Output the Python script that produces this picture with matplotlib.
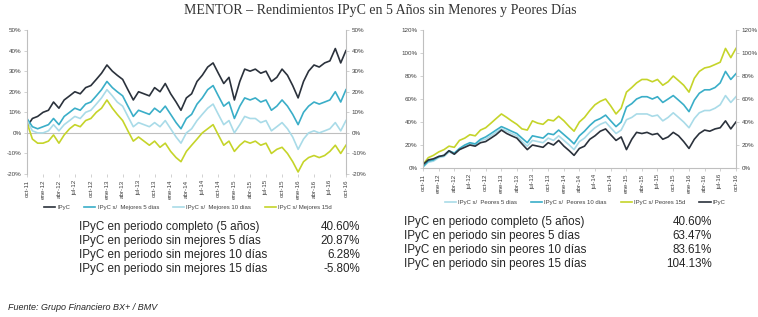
import matplotlib
matplotlib.use("Agg")
import matplotlib.pyplot as plt
import pandas as pd

# monthly readings, oct-11 .. oct-16
fechas = pd.date_range("2011-10-01", "2016-10-01", freq="MS")

ipyc = [3, 7, 8, 10, 11, 15, 12, 16, 18, 20, 19, 22, 23, 26, 29, 33, 30, 28, 26, 21,
        16, 20, 19, 18, 22, 20, 24, 19, 15, 11, 17, 19, 25, 28, 32, 34, 29, 24, 27, 16,
        25, 31, 30, 31, 29, 30, 25, 27, 31, 28, 23, 17, 25, 30, 33, 32, 34, 35, 41, 34, 40]
mej5 = [7, 3, 2, 3, 4, 7, 4, 8, 10, 12, 11, 14, 15, 18, 21, 25, 22, 20, 18, 13,
        8, 11, 10, 9, 12, 10, 13, 9, 5, 2, 7, 9, 14, 17, 21, 23, 18, 13, 15, 7,
        13, 17, 16, 17, 15, 16, 11, 13, 16, 13, 9, 4, 10, 13, 15, 14, 15, 16, 20, 15, 21]
mej10 = [6, 1, 0, 0, 1, 4, 1, 4, 6, 8, 7, 10, 11, 14, 17, 21, 18, 15, 13, 8,
         3, 5, 4, 3, 5, 3, 6, 2, -2, -5, 0, 2, 6, 9, 12, 14, 9, 4, 6, 0,
         4, 8, 7, 7, 5, 6, 1, 3, 5, 2, -2, -8, -3, 0, 1, 0, 1, 2, 5, 1, 6]
mej15 = [5, -3, -5, -5, -4, -1, -5, -1, 2, 4, 3, 6, 7, 10, 12, 16, 12, 9, 6, 1,
         -4, -2, -4, -6, -4, -7, -5, -9, -12, -14, -9, -6, -3, 0, 2, 4, -1, -6, -4, -9,
         -6, -4, -5, -4, -6, -5, -10, -8, -7, -10, -14, -19, -14, -12, -11, -12, -11, -9, -6, -10, -6]

peo5 = [1, 5, 6, 9, 10, 14, 12, 16, 19, 21, 20, 24, 25, 28, 31, 34, 32, 30, 28, 23,
        19, 24, 23, 22, 26, 24, 28, 24, 20, 16, 23, 26, 31, 35, 38, 40, 35, 30, 33, 42,
        44, 47, 47, 47, 45, 46, 41, 44, 48, 44, 40, 35, 43, 48, 50, 50, 52, 55, 63, 57, 62]
peo10 = [1, 6, 7, 10, 11, 15, 13, 17, 20, 22, 21, 25, 27, 30, 33, 36, 34, 32, 30, 26,
         22, 28, 27, 26, 30, 29, 33, 29, 25, 21, 28, 32, 37, 41, 43, 46, 41, 36, 40, 53,
         56, 60, 62, 62, 60, 62, 57, 60, 63, 59, 55, 49, 59, 65, 68, 68, 70, 74, 84, 77, 82]
peo15 = [3, 9, 11, 14, 16, 19, 18, 24, 26, 29, 28, 33, 35, 39, 43, 47, 44, 41, 38, 34,
         33, 41, 39, 38, 42, 41, 45, 41, 36, 32, 40, 44, 50, 55, 58, 60, 54, 47, 52, 66,
         70, 74, 77, 77, 75, 77, 72, 75, 80, 76, 72, 66, 78, 84, 87, 88, 90, 92, 104, 96, 104]

meses = ["oct-11", "ene-12", "abr-12", "jul-12", "oct-12", "ene-13", "abr-13", "jul-13",
         "oct-13", "ene-14", "abr-14", "jul-14", "oct-14", "ene-15", "abr-15", "jul-15",
         "oct-15", "ene-16", "abr-16", "jul-16", "oct-16"]

tabla_izq = [("IPyC en periodo completo (5 años)", "40.60%"),
             ("IPyC en periodo sin mejores 5 días", "20.87%"),
             ("IPyC en periodo sin mejores 10 días", "6.28%"),
             ("IPyC en periodo sin mejores 15 días", "-5.80%")]
tabla_der = [("IPyC en periodo completo (5 años)", "40.60%"),
             ("IPyC en periodo sin peores 5 días", "63.47%"),
             ("IPyC en periodo sin peores 10 días", "83.61%"),
             ("IPyC en periodo sin peores 15 días", "104.13%")]

NEGRO = "#2b323c"
TEAL = "#3aaec8"
CLARO = "#a9dbe8"
AMAR = "#c5d42a"
GRIS = "#bfbfbf"
TXT = "#404040"

plt.rcParams["font.family"] = ["Liberation Sans", "DejaVu Sans"]

fig = plt.figure(figsize=(7.58, 3.17), dpi=100)
ticks = pd.date_range("2011-10-01", "2016-10-01", freq="3MS")


def arma_ejes(ax, lo, hi, paso):
    ax.set_xlim(fechas[0], fechas[-1])
    ax.set_ylim(lo, hi)
    yt = list(range(lo, hi + 1, paso))
    ax.set_yticks(yt)
    ax.set_yticklabels([f"{v}%" for v in yt])
    ax.set_xticks(ticks)
    ax.set_xticklabels(meses, rotation=90)
    ax.tick_params(axis="both", labelsize=4.5, colors=TXT, length=2, width=0.5,
                   color=GRIS, labelright=True, right=True, pad=2)
    ax.spines["top"].set_visible(False)
    for s in ["left", "right", "bottom"]:
        ax.spines[s].set_color(GRIS)
        ax.spines[s].set_linewidth(0.8)


leg_kw = dict(loc="center", ncol=4, frameon=False, fontsize=4.3, handlelength=1.9,
              columnspacing=2.3, handletextpad=0.35, labelcolor=TXT)

# izquierda: sin mejores dias
ax1 = fig.add_axes([0.0356, 0.451, 0.4208, 0.4543])
l1, = ax1.plot(fechas, ipyc, color=NEGRO, lw=1.2, label="IPyC")
l2, = ax1.plot(fechas, mej5, color=TEAL, lw=1.2, label="IPyC s/  Mejores 5 dias")
l3, = ax1.plot(fechas, mej10, color=CLARO, lw=1.2, label="IPyC s/  Mejores 10 dias")
l4, = ax1.plot(fechas, mej15, color=AMAR, lw=1.2, label="IPyC s/ Mejores 15d")
arma_ejes(ax1, -20, 50, 10)
ax1.spines["bottom"].set_visible(False)
ax1.axhline(0, color=GRIS, lw=0.8, zorder=0)
fig.legend(handles=[l1, l2, l3, l4], bbox_to_anchor=(0.248, 0.347), **leg_kw)

# derecha: sin peores dias
ax2 = fig.add_axes([0.558, 0.47, 0.4129, 0.4353])
r1, = ax2.plot(fechas, peo5, color=CLARO, lw=1.2, label="IPyC s/  Peores 5 dias")
r2, = ax2.plot(fechas, peo10, color=TEAL, lw=1.2, label="IPyC s/  Peores 10 dias")
r3, = ax2.plot(fechas, peo15, color=AMAR, lw=1.2, label="IPyC s/ Peores 15d")
r4, = ax2.plot(fechas, ipyc, color=NEGRO, lw=1.2, label="IPyC")
arma_ejes(ax2, 0, 120, 20)
fig.legend(handles=[r1, r2, r3, r4], bbox_to_anchor=(0.772, 0.36), **leg_kw)

fig.text(0.501, 0.968, "MENTOR – Rendimientos IPyC en 5 Años sin Menores y Peores Días",
         ha="center", va="center", fontsize=10, color="#333333",
         family=["Liberation Serif", "DejaVu Serif"])

for i, (txt, val) in enumerate(tabla_izq):
    y = 1 - (227 + 14 * i) / 317
    fig.text(79 / 758, y, txt, ha="left", va="center", fontsize=8.4, color="#262626")
    fig.text(360 / 758, y, val, ha="right", va="center", fontsize=8.4, color="#262626")
for i, (txt, val) in enumerate(tabla_der):
    y = 1 - (222 + 14 * i) / 317
    fig.text(404 / 758, y, txt, ha="left", va="center", fontsize=8.4, color="#262626")
    fig.text(712 / 758, y, val, ha="right", va="center", fontsize=8.4, color="#262626")

fig.text(8 / 758, 1 - 307 / 317, "Fuente: Grupo Financiero BX+ / BMV", ha="left",
         va="center", fontsize=6.5, style="italic", color="#262626")

fig.savefig("out.png", dpi=100)
